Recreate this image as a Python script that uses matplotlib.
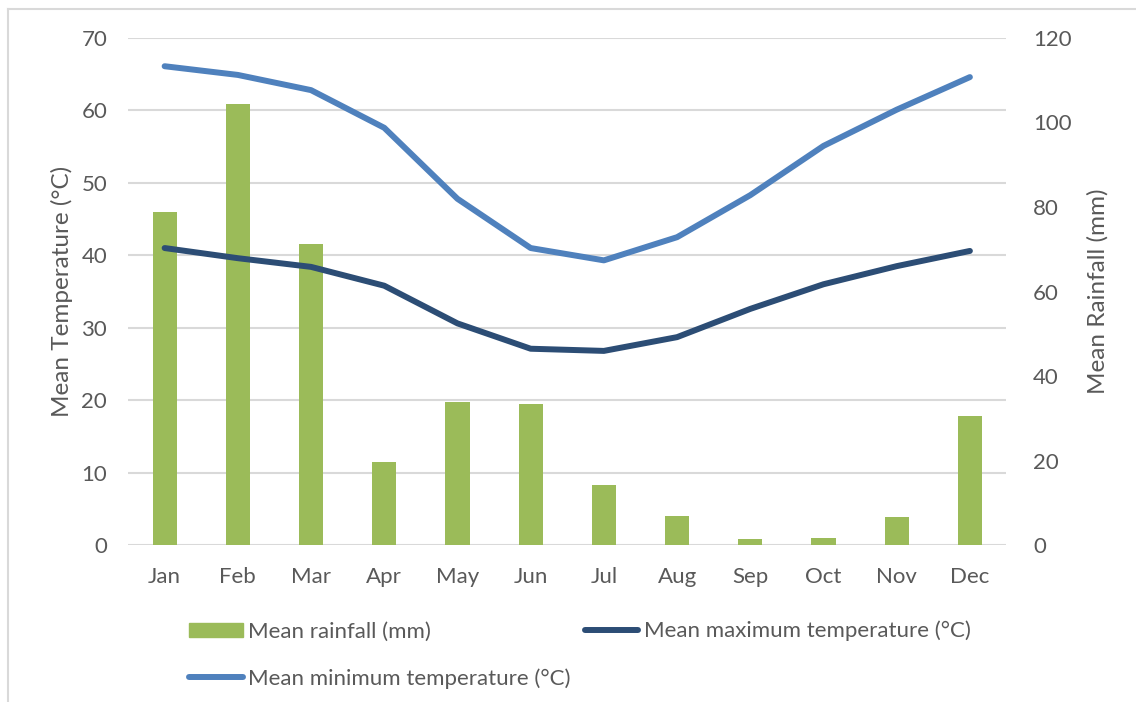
import numpy as np
import matplotlib
matplotlib.use("Agg")
import matplotlib.pyplot as plt
from matplotlib.lines import Line2D

plt.rcParams['font.family'] = ['Lato', 'DejaVu Sans']

# data
months = ['Jan', 'Feb', 'Mar', 'Apr', 'May', 'Jun', 'Jul', 'Aug', 'Sep', 'Oct', 'Nov', 'Dec']
rainfall = [78.9, 104.4, 71.3, 19.7, 33.8, 33.4, 14.2, 6.9, 1.4, 1.7, 6.6, 30.5]
max_temp = [41.0, 39.6, 38.4, 35.8, 30.6, 27.1, 26.8, 28.7, 32.6, 36.0, 38.5, 40.6]
min_temp = [66.1, 64.9, 62.8, 57.6, 47.8, 41.0, 39.3, 42.5, 48.3, 55.1, 60.1, 64.6]

txt = '#595959'
grid_c = '#d9d9d9'
green = '#9BBB59'
light_blue = '#4F81BD'
dark_blue = '#2C4D75'
fs = 16

fig = plt.figure(figsize=(11.36, 7.02), dpi=100)
ax = fig.add_axes([0.1127, 0.2236, 0.7733, 0.7223])
ax2 = ax.twinx()

x = np.arange(len(months))
temp_ticks = np.arange(0, 71, 10)

# gridlines follow the temperature ticks, drawn behind the bars
for t in temp_ticks:
    ax2.axhline(t * 120 / 70, color=grid_c, lw=1.5, zorder=1)

# bars on the rainfall axis
ax2.bar(x, rainfall, width=0.33, color=green, zorder=2)
ax2.set_ylim(0, 120)
ax2.set_yticks(np.arange(0, 121, 20))

ax.set_zorder(ax2.get_zorder() + 1)
ax.patch.set_visible(False)

l_max, = ax.plot(x, max_temp, color=dark_blue, lw=4.3, solid_capstyle='round', solid_joinstyle='round', zorder=3)
l_min, = ax.plot(x, min_temp, color=light_blue, lw=4.3, solid_capstyle='round', solid_joinstyle='round', zorder=3)
ax.set_ylim(0, 70)
ax.set_yticks(temp_ticks)
ax.set_xlim(-0.5, 11.5)
ax.set_xticks(x)
ax.set_xticklabels(months)

for a in (ax, ax2):
    for s in a.spines.values():
        s.set_visible(False)
    a.tick_params(length=0, labelsize=fs, colors=txt)
ax.tick_params(axis='y', pad=15)
ax.tick_params(axis='x', pad=16)
ax2.tick_params(axis='y', pad=19)

ax.set_ylabel('Mean Temperature (°C)', fontsize=17.5, color=txt, labelpad=6)
ax2.set_ylabel('Mean Rainfall (mm)', fontsize=17.5, color=txt, labelpad=11)

# legend below the plot
h_rain = plt.Rectangle((0, 0), 1, 1, color=green)
h_min = Line2D([], [], color=light_blue, lw=4.3, solid_capstyle='round')
h_max = Line2D([], [], color=dark_blue, lw=4.3, solid_capstyle='round')
fig.legend([h_rain, h_min, h_max],
           ['Mean rainfall (mm)', 'Mean minimum temperature (°C)', 'Mean maximum temperature (°C)'],
           ncol=2, loc='upper left', bbox_to_anchor=(0.157, 0.1315), frameon=False,
           fontsize=fs, labelcolor=txt, handlelength=2.4, handleheight=0.6,
           handletextpad=0.25, columnspacing=0.63, labelspacing=1.2, borderpad=0)

# light frame at top and left edge
fig.add_artist(Line2D([8 / 1136, 1], [1 - 9 / 702, 1 - 9 / 702], color=grid_c, lw=1.5))
fig.add_artist(Line2D([8 / 1136, 8 / 1136], [0, 1 - 9 / 702], color=grid_c, lw=1.5))

fig.savefig('out.png', dpi=100)
